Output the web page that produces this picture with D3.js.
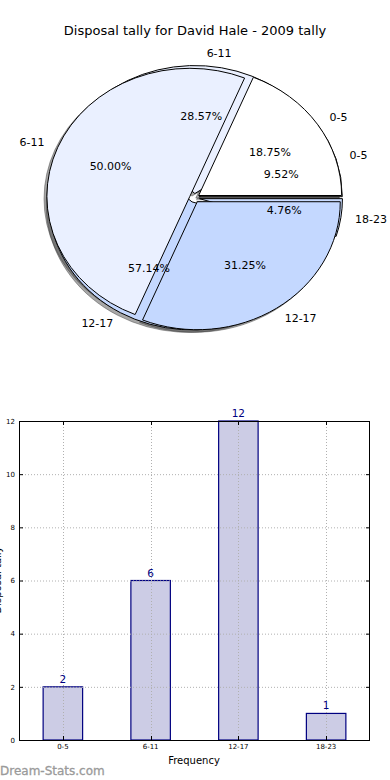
<!DOCTYPE html>
<html><head><meta charset="utf-8">
<script src="https://cdnjs.cloudflare.com/ajax/libs/d3/7.8.5/d3.min.js"></script>
<style>body{margin:0;background:#fff}svg{display:block;font-family:"DejaVu Sans",sans-serif}</style>
</head><body>
<svg id="c" width="390" height="780"></svg>
<script>
// ---- data ----
const titleText = "Disposal tally for David Hale - 2009 tally";
const categories = ["0-5", "6-11", "12-17", "18-23"];
const tally2009 = [2, 6, 12, 1];
const pieBackLabels = ["0-5", "6-11", "12-17", "18-23"];
const pieBackValues = [2, 6, 12, 1];
const pieFrontLabels = ["0-5", "6-11", "12-17"];
const pieFrontValues = [3, 8, 5];
const pieColors = ["#ffffff", "#eaf0ff", "#c4d8ff", "#c9dbff"];
const yTicks = [0, 2, 4, 6, 8, 10, 12];
const xLabel = "Frequency";
const yLabel = "Disposal tally";
const watermark = "Dream-Stats.com";

const svg = d3.select("#c");

// title
svg.append("text").attr("x", 195).attr("y", 30).attr("text-anchor", "middle")
  .attr("dominant-baseline", "central").attr("font-size", 13).text(titleText);

// ---- pies ----
const cx = 194.5, cy = 198, Rx = 143, Ry = 128, explode = 0.035;
const pieGen = d3.pie().sort(null).startAngle(Math.PI / 2).endAngle(Math.PI / 2 - 2 * Math.PI);
const arc = d3.arc().innerRadius(0).outerRadius(Rx);
const pg = svg.append("g").attr("transform", `translate(${cx},${cy}) scale(1,${Ry / Rx})`);
const shadowG = pg.append("g");
const wedgeG = pg.append("g");
const textG = svg.append("g").attr("font-size", 11);

function drawPie(values, labels) {
  const arcs = pieGen(values);
  const total = d3.sum(values);
  arcs.forEach((a, i) => {
    const mid = (a.startAngle + a.endAngle) / 2;
    const ox = explode * Rx * Math.sin(mid), oy = -explode * Rx * Math.cos(mid);
    shadowG.append("path").attr("d", arc(a))
      .attr("transform", `translate(${ox - 0.02 * Rx},${oy + 0.02 * Rx})`)
      .attr("fill", "rgba(60,60,60,0.45)").attr("stroke", "rgba(60,60,60,0.45)")
      .attr("vector-effect", "non-scaling-stroke");
    wedgeG.append("path").attr("d", arc(a))
      .attr("transform", `translate(${ox},${oy})`)
      .attr("fill", pieColors[i % pieColors.length]).attr("stroke", "#000")
      .attr("stroke-width", 1).attr("vector-effect", "non-scaling-stroke");
    const sx = Math.sin(mid), sy = -Math.cos(mid);
    const lx = cx + (explode + 1.1) * Rx * sx, ly = cy + (explode + 1.1) * Ry * sy;
    textG.append("text").attr("x", lx).attr("y", ly)
      .attr("text-anchor", sx > 0 ? "start" : "end").attr("dominant-baseline", "central")
      .text(labels[i]);
    const px = cx + (explode + 0.6) * Rx * sx, py = cy + (explode + 0.6) * Ry * sy;
    textG.append("text").attr("x", px).attr("y", py)
      .attr("text-anchor", "middle").attr("dominant-baseline", "central")
      .text((a.value / total * 100).toFixed(2) + "%");
  });
}
drawPie(pieBackValues, pieBackLabels);
drawPie(pieFrontValues, pieFrontLabels);

// ---- bar chart ----
const L = 19, R = 370, T = 421, B = 740;
const x = d3.scaleBand().domain(categories).range([L, R]).paddingInner(0).paddingOuter(0);
const y = d3.scaleLinear().domain([0, 12]).range([B, T]);
const bw = x.bandwidth() * 0.45;
const bg = svg.append("g");

bg.selectAll("rect.bar").data(categories).join("rect")
  .attr("x", d => x(d) + x.bandwidth() / 2 - bw / 2)
  .attr("y", (d, i) => y(tally2009[i]))
  .attr("width", bw).attr("height", (d, i) => B - y(tally2009[i]))
  .attr("fill", "#ccccE5").attr("stroke", "#000080").attr("stroke-width", 1.2);

// grid
const grid = bg.append("g").attr("stroke", "#b0b0b0").attr("stroke-dasharray", "1,2").attr("stroke-width", 1);
yTicks.forEach(t => grid.append("line").attr("x1", L).attr("x2", R).attr("y1", y(t) + 0.5).attr("y2", y(t) + 0.5));
categories.forEach(c => { const xc = Math.round(x(c) + x.bandwidth() / 2) + 0.5;
  grid.append("line").attr("x1", xc).attr("x2", xc).attr("y1", T).attr("y2", B); });

// value labels
bg.selectAll("text.val").data(categories).join("text")
  .attr("x", d => x(d) + x.bandwidth() / 2).attr("y", (d, i) => y(tally2009[i]) - 4)
  .attr("text-anchor", "middle").attr("font-size", 10.5).attr("fill", "#000080")
  .text((d, i) => tally2009[i]);

// frame
bg.append("rect").attr("x", L + 0.5).attr("y", T + 0.5).attr("width", R - L - 1).attr("height", B - T)
  .attr("fill", "none").attr("stroke", "#000").attr("stroke-width", 1);

// ticks (inside)
const tk = bg.append("g").attr("stroke", "#000").attr("stroke-width", 1);
yTicks.forEach(t => { const yy = y(t) + 0.5;
  tk.append("line").attr("x1", L).attr("x2", L + 4).attr("y1", yy).attr("y2", yy);
  tk.append("line").attr("x1", R - 4).attr("x2", R).attr("y1", yy).attr("y2", yy); });
categories.forEach(c => { const xc = Math.round(x(c) + x.bandwidth() / 2) + 0.5;
  tk.append("line").attr("x1", xc).attr("x2", xc).attr("y1", B).attr("y2", B - 4);
  tk.append("line").attr("x1", xc).attr("x2", xc).attr("y1", T).attr("y2", T + 4); });

// axes via d3 (labels only)
const yAxis = d3.axisLeft(y).tickValues(yTicks).tickSize(0).tickPadding(4);
const ya = bg.append("g").attr("transform", `translate(${L},0)`).call(yAxis);
ya.select(".domain").remove();
ya.selectAll("text").attr("font-size", 7).attr("font-family", "DejaVu Sans");
const xAxis = d3.axisBottom(x).tickSize(0).tickPadding(4);
const xa = bg.append("g").attr("transform", `translate(0,${B})`).call(xAxis);
xa.select(".domain").remove();
xa.selectAll("text").attr("font-size", 7).attr("font-family", "DejaVu Sans");

svg.append("text").attr("x", 194).attr("y", 760).attr("text-anchor", "middle")
  .attr("dominant-baseline", "central").attr("font-size", 10).text(xLabel);
svg.append("text").attr("transform", `translate(1,580) rotate(-90)`).attr("text-anchor", "middle")
  .attr("font-size", 10).text(yLabel);

svg.append("text").attr("x", 0).attr("y", 775).attr("font-size", 12).attr("fill", "#9a9a9a")
  .attr("stroke", "#9a9a9a").attr("stroke-width", 0.3).text(watermark);
</script>
</body></html>
